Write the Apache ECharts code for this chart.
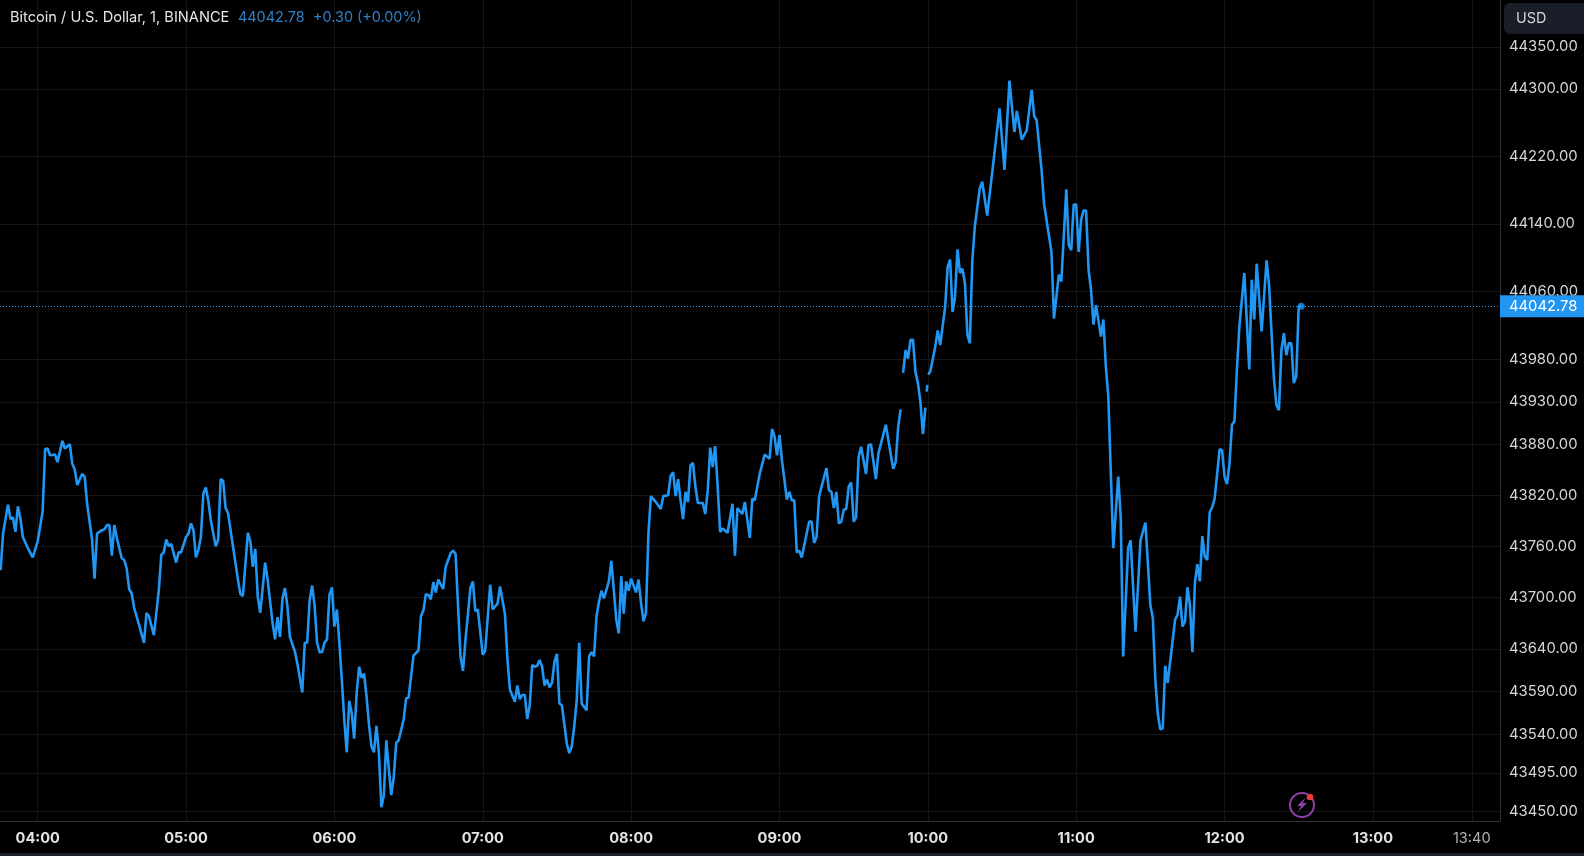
<!DOCTYPE html>
<html>
<head>
<meta charset="utf-8">
<title>BTCUSD</title>
<style>
html, body { margin: 0; padding: 0; background: #000; }
#main { width: 1584px; height: 856px; }
</style>
<script src="https://cdn.jsdelivr.net/npm/echarts@6/dist/echarts.min.js"></script>
</head>
<body>
<div id="main"></div>
<script>
// minutes since midnight, rows of 20 line up with the prices rows below
var minutes = [
    225,226,228,229,230,231,232,233,234,236,238,240,242,243,244,245,247,248,250,251,
    253,254,255,256,258,259,260,262,263,264,266,267,268,269,270,271,272,274,275,276,
    277,278,279,281,283,284,285,287,289,290,291,292,293,294,296,297,298,300,301,302,
    303,304,305,306,307,308,309,310,312,313,314,315,316,317,320,321,322,323,325,326,
    327,328,329,330,332,333,335,336,337,338,339,340,341,342,344,345,347,348,349,350,
    351,352,353,354,355,356,357,358,359,360,361,362,363,364,365,366,367,368,369,370,
    371,372,373,374,375,376,377,378,379,380,381,382,383,384,385,386,388,389,390,392,
    394,395,396,397,398,399,400,401,402,404,405,407,408,409,411,412,413,414,415,416,
    417,418,420,421,423,424,426,427,429,430,431,433,434,435,436,437,438,439,440,441,
    442,443,444,445,446,447,448,449,450,451,452,454,455,456,457,458,459,460,462,463,
    464,465,466,467,468,469,471,472,474,475,476,477,478,479,480,482,483,484,485,486,
    487,488,490,492,493,495,496,497,498,499,500,501,502,503,504,505,506,507,509,510,
    511,512,513,514,515,516,517,519,521,522,523,525,526,528,529,530,532,534,536,537,
    538,539,540,541,543,544,545,546,547,548,549,551,552,553,554,555,556,557,559,560,
    561,562,563,564,565,566,567,568,569,570,571,572,573,575,576,577,579,580,583,586,
    587,588,589,590,590,591,592,593,594,595,596,597,598,599,599,599.5,599.8,600,600.2,601,
    603,604,605,607,608,609,610,611,612,613,614,615,616,617,618,619,621,622,624,626,
    629,631,633,635,636,638,640,642,643,644,646,647,650,651,652,653,654,656,657,658,
    659,660,661,662,663,664,665,666,667,668,669,670,671,672,673,674,675,677,678,679,
    681,682,684,686,688,690,691,692,693,694,695,696,697,700,701,702,703,704,705,706,
    707,708,709,710,711,712,713,714,715,716,718,719,720,721,722,723,724,725,726,728,
    730,731,732,733,735,737,738,740,741,742,743,744,745,746,747,748,749,750,751
];
// null breaks the line where the picture has it broken
var prices = [
    43732,43775,43809,43792,43794,43777,43807,43793,43771,43758,43747,43766,43801,43874,43875,43867,43868,43859,43884,43875,
    43880,43857,43850,43832,43845,43842,43810,43768,43722,43775,43779,43780,43785,43785,43749,43785,43770,43746,43744,43734,
    43710,43705,43688,43668,43647,43682,43678,43656,43709,43750,43753,43768,43760,43763,43741,43753,43753,43771,43775,43787,
    43779,43747,43756,43771,43822,43829,43814,43791,43760,43768,43839,43837,43805,43799,43740,43721,43704,43702,43776,43766,
    43736,43757,43701,43682,43741,43721,43670,43651,43677,43654,43699,43711,43690,43654,43637,43623,43589,43647,43647,43697,
    43714,43690,43647,43636,43636,43647,43651,43703,43712,43666,43686,43647,43604,43557,43519,43579,43565,43535,43588,43619,
    43606,43611,43584,43551,43526,43519,43550,43518,43455,43469,43533,43500,43469,43490,43530,43533,43557,43582,43583,43632,
    43638,43678,43685,43704,43703,43698,43718,43706,43721,43710,43736,43752,43755,43751,43631,43614,43650,43680,43711,43719,
    43684,43686,43633,43638,43715,43686,43693,43713,43680,43627,43592,43578,43597,43581,43586,43586,43558,43574,43621,43619,
    43620,43627,43619,43597,43604,43595,43600,43625,43634,43576,43574,43529,43518,43526,43549,43580,43647,43576,43568,43631,
    43636,43631,43678,43695,43708,43699,43719,43743,43674,43658,43725,43681,43719,43708,43722,43706,43721,43694,43672,43682,
    43775,43819,43812,43804,43819,43820,43843,43847,43819,43839,43814,43792,43824,43812,43855,43858,43830,43811,43811,43798,
    43826,43876,43853,43878,43830,43777,43781,43776,43810,43749,43805,43798,43812,43770,43816,43814,43845,43868,43863,43898,
    43889,43867,43891,43861,43815,43824,43814,43814,43753,43755,43747,43775,43789,43789,43764,43771,43818,43830,43852,43826,
    43824,43805,43824,43787,43789,43803,43804,43830,43835,43789,43794,43865,43877,43845,43879,43880,43839,43869,43903,43851,
    43859,43900,43921,null,43964,43991,43981,44003,44003,43965,43952,43930,43892,43923,null,43942,43950,null,43962,43966,
    43995,44014,43997,44042,44089,44098,44036,44054,44110,44082,44087,44070,44009,43999,44097,44137,44182,44190,44150,44200,
    44277,44204,44310,44249,44274,44240,44251,44299,44268,44263,44204,44164,44107,44028,44054,44080,44072,44181,44115,44109,
    44163,44163,44107,44145,44156,44156,44086,44062,44021,44044,44026,44007,44027,43971,43936,43846,43758,43842,43795,43631,
    43758,43767,43660,43767,43788,43691,43676,43604,43564,43546,43547,43620,43600,43674,43680,43701,43666,43672,43712,43691,
    43636,43717,43739,43719,43772,43748,43744,43800,43806,43816,43874,43873,43842,43833,43857,43903,43907,43968,44019,44082,
    43968,44074,44027,44093,44013,44097,44068,43956,43926,43920,43991,44011,43985,43999,43999,43952,43960,44043,44042.78
];
var priceTicks = [44350,44300,44220,44140,44060,43980,43930,43880,43820,43760,43700,43640,43590,43540,43495,43450];
var timeTicks = [240,300,360,420,480,540,600,660,720,780,820];
var lastPrice = 44042.78;
var lineColor = '#2196f3';
var fontName = 'Inter, "Noto Sans", sans-serif';

function minuteLabel(m) {
    var h = Math.floor(m / 60);
    var mm = m % 60;
    var s = (h < 10 ? '0' : '') + h + ':' + (mm < 10 ? '0' : '') + mm;
    return mm === 0 ? '{hour|' + s + '}' : '{rest|' + s + '}';
}

var seriesData = [];
for (var i = 0; i < minutes.length; i++) {
    seriesData.push([minutes[i], prices[i]]);
}

var option = {
    animation: false,
    backgroundColor: '#000',
    textStyle: { fontFamily: fontName },
    grid: { left: 0, right: 84, top: 0, height: 821 },
    xAxis: {
        type: 'value',
        min: 224.76,
        max: 831.4,
        axisLine: { show: true, onZero: false, lineStyle: { color: '#333' } },
        axisTick: { show: false, customValues: timeTicks },
        splitLine: { show: true, lineStyle: { color: '#151515', width: 1 } },
        axisLabel: {
            customValues: timeTicks,
            margin: 10,
            formatter: minuteLabel,
            rich: {
                hour: { fontFamily: fontName, fontSize: 14.6, fontWeight: 'bold', color: '#e4e4e4' },
                rest: { fontFamily: fontName, fontSize: 14.6, color: '#b0b0b0' }
            }
        }
    },
    yAxis: {
        type: 'log',
        position: 'right',
        min: 43438.9,
        max: 44405.9,
        axisLine: { show: true, onZero: false, lineStyle: { color: '#333' } },
        axisTick: { show: false, customValues: priceTicks },
        splitLine: { show: true, lineStyle: { color: '#151515', width: 1 } },
        axisLabel: {
            customValues: priceTicks,
            margin: 9,
            fontFamily: fontName,
            fontSize: 14.8,
            color: '#d6d6d6',
            padding: [2, 0, 0, 0],
            formatter: function (v) { return Number(v).toFixed(2); }
        }
    },
    series: [
        {
            type: 'line',
            z: 10,
            data: seriesData,
            symbol: 'none',
            connectNulls: false,
            lineStyle: { color: lineColor, width: 2.6 },
            markLine: {
                silent: true,
                symbol: 'none',
                animation: false,
                lineStyle: { color: lineColor, type: [1, 2], width: 1, opacity: 1 },
                label: {
                    position: 'end',
                    distance: 0,
                    formatter: lastPrice.toFixed(2),
                    backgroundColor: lineColor,
                    color: '#fff',
                    fontFamily: fontName,
                    fontSize: 14.8,
                    padding: [4, 8, 3, 9]
                },
                data: [{ yAxis: lastPrice }]
            }
        },
        {
            type: 'scatter',
            z: 11,
            symbolSize: 7,
            itemStyle: { color: lineColor },
            data: [[minutes[minutes.length - 1], lastPrice]]
        }
    ],
    graphic: [
        { type: 'rect', silent: true, shape: { x: 0, y: 853, width: 1584, height: 3 }, style: { fill: '#1c202b' } },
        { type: 'rect', silent: true, z: 20, shape: { x: 1504, y: 3, width: 90, height: 31, r: 6 }, style: { fill: '#1a1e28' } },
        { type: 'text', silent: true, z: 21, x: 1516, y: 19, style: { text: 'USD', fill: '#d6d6d6', font: '14.4px ' + fontName, verticalAlign: 'middle' } },
        { type: 'text', silent: true, z: 21, x: 10, y: 18, style: { text: 'Bitcoin / U.S. Dollar, 1, BINANCE', fill: '#e6e6e6', font: '14.6px ' + fontName, verticalAlign: 'middle' } },
        { type: 'text', silent: true, z: 21, x: 238, y: 18, style: { text: '44042.78', fill: '#2f80c8', font: '14.4px ' + fontName, verticalAlign: 'middle' } },
        { type: 'text', silent: true, z: 21, x: 313, y: 18, style: { text: '+0.30 (+0.00%)', fill: '#2f80c8', font: '14.4px ' + fontName, verticalAlign: 'middle' } },
        { type: 'circle', silent: true, z: 21, shape: { cx: 1302, cy: 805, r: 12 }, style: { fill: 'none', stroke: '#8e3fa6', lineWidth: 2 } },
        { type: 'polygon', silent: true, z: 21, shape: { points: [[1305, 798], [1297, 806], [1301, 806], [1298, 812], [1307, 803], [1303, 803]] }, style: { fill: '#8e3fa6' } },
        { type: 'circle', silent: true, z: 22, shape: { cx: 1310, cy: 797, r: 3.3 }, style: { fill: '#ee3b3b' } }
    ]
};

var chart = echarts.init(document.getElementById('main'));
chart.setOption(option);
</script>
</body>
</html>
